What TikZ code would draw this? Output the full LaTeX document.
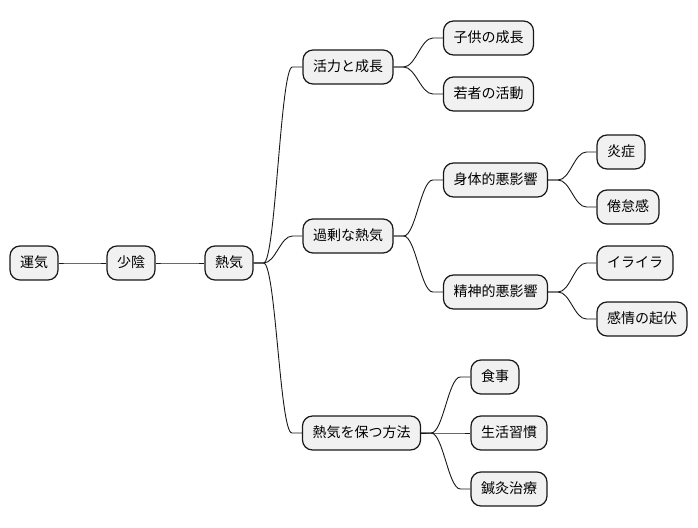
\documentclass[tikz,border=0pt]{standalone}
\usepackage{fontspec}
\setmainfont{Noto Sans CJK JP}
\usetikzlibrary{calc}

\definecolor{boxfill}{HTML}{F1F1F1}
\definecolor{boxline}{HTML}{181818}

\tikzset{
  mmnode/.style={draw=boxline, fill=boxfill, line width=1.2pt, rounded corners=10pt,
    minimum height=34pt, inner xsep=10pt, inner ysep=0pt,
    text height=11pt, text depth=3pt, font=\fontsize{14pt}{16pt}\selectfont},
  mmlink/.style={draw=boxline, line width=0.9pt},
}

\begin{document}
\begin{tikzpicture}[x=1pt, y=-1pt]

  % ── 幹：運気 → 少陰 → 熱気 ──
  \node[mmnode] (unki)   at (34,263)  {運気};
  \node[mmnode] (shoin)  at (131,263) {少陰};
  \node[mmnode] (netsu)  at (229,263) {熱気};

  % ── 第二層 ──
  \node[mmnode] (katsu)  at (348,67)  {活力と成長};
  \node[mmnode] (kajo)   at (348,236) {過剰な熱気};
  \node[mmnode] (tamotsu) at (361.5,433) {熱気を保つ方法};

  % ── 第三層 ──
  \node[mmnode] (kodomo) at (488.5,38)  {子供の成長};
  \node[mmnode] (wakamono) at (488.5,94) {若者の活動};
  \node[mmnode] (shintai) at (495.5,180) {身体的悪影響};
  \node[mmnode] (seishin) at (495.5,292) {精神的悪影響};
  \node[mmnode] (shoku)  at (495,377) {食事};
  \node[mmnode] (seikatsu) at (509,433) {生活習慣};
  \node[mmnode] (shinkyu) at (509,489) {鍼灸治療};

  % ── 第四層 ──
  \node[mmnode] (ensho)  at (621,152) {炎症};
  \node[mmnode] (kentai) at (628,207) {倦怠感};
  \node[mmnode] (iraira) at (635,263) {イライラ};
  \node[mmnode] (kanjo)  at (642,319) {感情の起伏};

  % ── 接続線（親の右端 → 短い水平 → S字 → 子の左端）──
  \foreach \p/\c in {unki/shoin, shoin/netsu,
                     netsu/katsu, netsu/kajo, netsu/tamotsu,
                     katsu/kodomo, katsu/wakamono,
                     kajo/shintai, kajo/seishin,
                     tamotsu/shoku, tamotsu/seikatsu, tamotsu/shinkyu,
                     shintai/ensho, shintai/kentai,
                     seishin/iraira, seishin/kanjo}
    \path[mmlink] (\p.east) -- ++(10,0)
      .. controls +(12,0) and +(-12,0) .. ($(\c.west)+(-10,0)$) -- (\c.west);

  \pgfresetboundingbox
  \path[use as bounding box] (0,0) rectangle (698,527);
\end{tikzpicture}
\end{document}
